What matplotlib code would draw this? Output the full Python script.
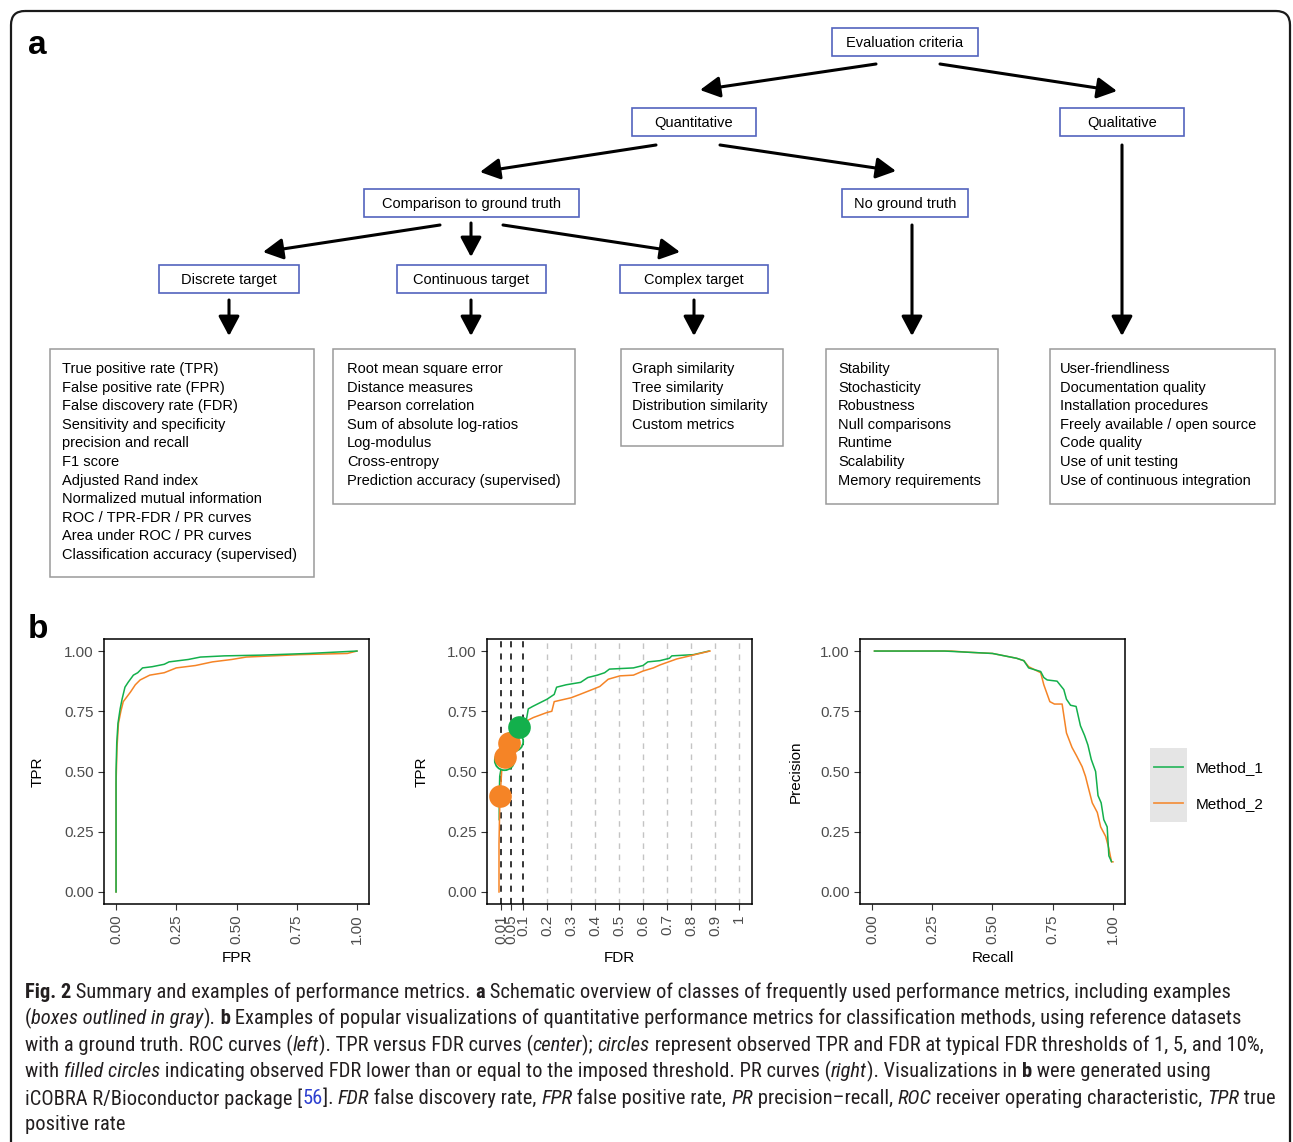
import matplotlib
matplotlib.use('Agg')
import matplotlib.pyplot as plt
from matplotlib.patches import Rectangle, FancyBboxPatch
from matplotlib import font_manager

# ---------------- data ----------------
node_labels = ["Evaluation criteria", "Quantitative", "Qualitative",
               "Comparison to ground truth", "No ground truth",
               "Discrete target", "Continuous target", "Complex target"]

discrete_metrics = ["True positive rate (TPR)", "False positive rate (FPR)",
                    "False discovery rate (FDR)", "Sensitivity and specificity",
                    "precision and recall", "F1 score", "Adjusted Rand index",
                    "Normalized mutual information", "ROC / TPR-FDR / PR curves",
                    "Area under ROC / PR curves", "Classification accuracy (supervised)"]
continuous_metrics = ["Root mean square error", "Distance measures", "Pearson correlation",
                      "Sum of absolute log-ratios", "Log-modulus", "Cross-entropy",
                      "Prediction accuracy (supervised)"]
complex_metrics = ["Graph similarity", "Tree similarity", "Distribution similarity",
                   "Custom metrics"]
noground_metrics = ["Stability", "Stochasticity", "Robustness", "Null comparisons",
                    "Runtime", "Scalability", "Memory requirements"]
qualitative_metrics = ["User-friendliness", "Documentation quality", "Installation procedures",
                       "Freely available / open source", "Code quality", "Use of unit testing",
                       "Use of continuous integration"]

methods = ["Method_1", "Method_2"]

roc_fpr_1 = [0, 0, 0.003, 0.008, 0.017, 0.025, 0.037, 0.05, 0.072, 0.09, 0.11, 0.15, 0.2,
             0.22, 0.3, 0.35, 0.45, 0.6, 0.8, 0.9, 1.0]
roc_tpr_1 = [0, 0.5, 0.62, 0.7, 0.76, 0.8, 0.85, 0.87, 0.9, 0.91, 0.93, 0.935, 0.945,
             0.955, 0.965, 0.975, 0.98, 0.983, 0.99, 0.995, 1.0]
roc_fpr_2 = [0, 0, 0.004, 0.01, 0.02, 0.03, 0.045, 0.06, 0.08, 0.1, 0.14, 0.2, 0.25, 0.33,
             0.4, 0.48, 0.54, 0.76, 0.96, 1.0]
roc_tpr_2 = [0, 0.45, 0.6, 0.7, 0.75, 0.79, 0.81, 0.83, 0.86, 0.88, 0.9, 0.91, 0.93, 0.94,
             0.955, 0.965, 0.975, 0.985, 0.99, 1.0]

fdr_1 = [0.001, 0.001, 0.003, 0.01, 0.022, 0.04, 0.058, 0.075, 0.085, 0.1, 0.115, 0.122, 0.14,
         0.2, 0.23, 0.24, 0.28, 0.34, 0.37, 0.41, 0.44, 0.46, 0.56, 0.6, 0.62, 0.67, 0.71,
         0.72, 0.81, 0.875]
fdr_tpr_1 = [0.3, 0.4, 0.48, 0.52, 0.546, 0.6, 0.626, 0.66, 0.686, 0.7, 0.72, 0.76, 0.77,
             0.8, 0.82, 0.85, 0.86, 0.87, 0.89, 0.9, 0.91, 0.925, 0.93, 0.94, 0.955, 0.96,
             0.97, 0.98, 0.985, 1.0]
fdr_2 = [0.0, 0.0, 0.003, 0.005, 0.011, 0.02, 0.025, 0.035, 0.042, 0.07, 0.1, 0.115, 0.143,
         0.2, 0.22, 0.23, 0.3, 0.337, 0.393, 0.42, 0.455, 0.504, 0.56, 0.6, 0.643, 0.67,
         0.74, 0.795, 0.879]
fdr_tpr_2 = [0.0, 0.2, 0.35, 0.40, 0.5, 0.54, 0.56, 0.6, 0.62, 0.66, 0.69, 0.71, 0.724,
             0.745, 0.75, 0.79, 0.806, 0.82, 0.842, 0.853, 0.883, 0.897, 0.9, 0.917, 0.93,
             0.942, 0.967, 0.98, 1.0]

thr_fdr_1 = [0.022, 0.058, 0.085]
thr_tpr_1 = [0.546, 0.626, 0.686]
thr_filled_1 = [False, False, True]
thr_fdr_2 = [0.005, 0.025, 0.042]
thr_tpr_2 = [0.40, 0.56, 0.62]
thr_filled_2 = [True, True, True]

fdr_ticks = [0.01, 0.05, 0.1, 0.2, 0.3, 0.4, 0.5, 0.6, 0.7, 0.8, 0.9, 1]
fdr_ticklabels = ["0.01", "0.05", "0.1", "0.2", "0.3", "0.4", "0.5", "0.6", "0.7", "0.8", "0.9", "1"]
fdr_thresholds = [0.01, 0.05, 0.1]
unit_ticks = [0.0, 0.25, 0.5, 0.75, 1.0]
unit_ticklabels = ["0.00", "0.25", "0.50", "0.75", "1.00"]

rec_1 = [0.01, 0.3, 0.4, 0.5, 0.55, 0.6, 0.63, 0.65, 0.7, 0.713, 0.727, 0.768, 0.796, 0.807,
         0.824, 0.847, 0.856, 0.865, 0.882, 0.896, 0.91, 0.928, 0.938, 0.951, 0.962, 0.976,
         0.983, 0.994]
prec_1 = [1.0, 1.0, 0.995, 0.99, 0.98, 0.97, 0.96, 0.93, 0.915, 0.89, 0.88, 0.875, 0.84, 0.8,
          0.775, 0.77, 0.73, 0.69, 0.65, 0.61, 0.55, 0.5, 0.4, 0.37, 0.3, 0.27, 0.15, 0.126]
rec_2 = [0.01, 0.33, 0.4, 0.5, 0.55, 0.6, 0.63, 0.65, 0.7, 0.713, 0.738, 0.757, 0.789, 0.807,
         0.83, 0.849, 0.872, 0.886, 0.896, 0.914, 0.935, 0.949, 0.97, 0.983, 0.994, 1.0]
prec_2 = [1.0, 1.0, 0.995, 0.99, 0.98, 0.97, 0.96, 0.935, 0.91, 0.86, 0.79, 0.78, 0.78, 0.66,
          0.6, 0.565, 0.52, 0.48, 0.44, 0.37, 0.33, 0.27, 0.23, 0.18, 0.125, 0.125]

caption_lines = [
    [("Fig. 2", "b"), (" Summary and examples of performance metrics. ", "n"), ("a", "b"),
     (" Schematic overview of classes of frequently used performance metrics, including examples", "n")],
    [("(", "n"), ("boxes outlined in gray", "i"), (").", "n"), (" b", "b"),
     (" Examples of popular visualizations of quantitative performance metrics for classification methods, using reference datasets", "n")],
    [("with a ground truth. ROC curves (", "n"), ("left", "i"), ("). TPR versus FDR curves (", "n"),
     ("center", "i"), ("); ", "n"), ("circles", "i"),
     (" represent observed TPR and FDR at typical FDR thresholds of 1, 5, and 10%,", "n")],
    [("with ", "n"), ("filled circles", "i"),
     (" indicating observed FDR lower than or equal to the imposed threshold. PR curves (", "n"),
     ("right", "i"), ("). Visualizations in ", "n"), ("b", "b"), (" were generated using", "n")],
    [("iCOBRA R/Bioconductor package [", "n"), ("56", "l"), ("]. ", "n"), ("FDR", "i"),
     (" false discovery rate, ", "n"), ("FPR", "i"), (" false positive rate, ", "n"), ("PR", "i"),
     (" precision\u2013recall, ", "n"), ("ROC", "i"), (" receiver operating characteristic, ", "n"),
     ("TPR", "i"), (" true", "n")],
    [("positive rate", "n")],
]
caption_line_ends = [1263, 1250, 1276, 1237, 1272, None]

# ---------------- styles ----------------
GREEN = '#13b04c'
ORANGE = '#f58426'
BOXBLUE = '#5363bd'
BOXGRAY = '#9a9a9a'
FONT = 'Liberation Sans'
avail = {f.name for f in font_manager.fontManager.ttflist}
CAPFONT = 'Liberation Sans Narrow' if 'Liberation Sans Narrow' in avail else (
    'Roboto Condensed' if 'Roboto Condensed' in avail else 'Liberation Sans')
plt.rcParams['font.family'] = [FONT, 'DejaVu Sans']

W, H = 1293, 1142
fig = plt.figure(figsize=(W / 100, H / 100), dpi=100)
ov = fig.add_axes([0, 0, 1, 1], zorder=0)
ov.set_xlim(0, W)
ov.set_ylim(H, 0)
ov.axis('off')

# outer rounded border
ov.add_patch(FancyBboxPatch((11, 11), 1279, 1200, boxstyle="round,pad=0,rounding_size=14",
                            fill=False, ec='#1a1a1a', lw=1.6, clip_on=False))

ov.text(28, 46, "a", fontsize=24, fontweight='bold', va='center', ha='left')
ov.text(28, 629, "b", fontsize=24, fontweight='bold', va='center', ha='left')

# ---------------- part a: nodes ----------------
node_boxes = [(832, 28, 978, 56), (632, 108, 756, 136), (1060, 108, 1184, 136),
              (364, 189, 579, 217), (842, 189, 968, 217), (159, 265, 299, 293),
              (397, 265, 546, 293), (620, 265, 768, 293)]
for lab, (x0, y0, x1, y1) in zip(node_labels, node_boxes):
    ov.add_patch(Rectangle((x0, y0), x1 - x0, y1 - y0, fill=False, ec=BOXBLUE, lw=1.2))
    ov.text((x0 + x1) / 2, (y0 + y1) / 2 + 1, lab, ha='center', va='center', fontsize=10.5)

arrows = [((876, 64), (700, 90)), ((940, 64), (1117, 91)),
          ((656, 145), (480, 172)), ((720, 145), (896, 171)),
          ((1122, 145), (1122, 336)), ((912, 225), (912, 336)),
          ((440, 225), (263, 252)), ((471, 223), (471, 257)), ((503, 225), (680, 252)),
          ((229, 300), (229, 336)), ((471, 300), (471, 336)), ((694, 300), (694, 336))]
for (s, t) in arrows:
    ov.annotate('', xy=t, xytext=s,
                arrowprops=dict(arrowstyle='-|>,head_length=0.6,head_width=0.32', lw=2.2,
                                color='black', shrinkA=0, shrinkB=0, mutation_scale=20))

list_boxes = [((50, 349, 314, 577), discrete_metrics, 62),
              ((333, 349, 575, 504), continuous_metrics, 347),
              ((621, 349, 783, 446), complex_metrics, 632),
              ((826, 349, 998, 504), noground_metrics, 838),
              ((1050, 349, 1275, 504), qualitative_metrics, 1060)]
for (x0, y0, x1, y1), items, tx in list_boxes:
    ov.add_patch(Rectangle((x0, y0), x1 - x0, y1 - y0, fill=False, ec=BOXGRAY, lw=1.1))
    for i, it in enumerate(items):
        ov.text(tx, 369 + i * 18.6, it, ha='left', va='center', fontsize=10.5)

# ---------------- part b: plots ----------------
def make_ax(left_px):
    ax = fig.add_axes([left_px / W, 1 - 904 / H, 265 / W, 265 / H], zorder=2)
    ax.set_facecolor('white')
    for sp in ax.spines.values():
        sp.set_color('black')
        sp.set_linewidth(1.1)
    ax.tick_params(direction='out', length=4, width=0.8, color='#333333',
                   labelcolor='#4d4d4d', labelsize=11)
    ax.set_ylim(-0.05, 1.05)
    ax.set_yticks(unit_ticks)
    ax.set_yticklabels(unit_ticklabels)
    return ax

ax1 = make_ax(104)
ax1.set_xlim(-0.05, 1.05)
ax1.set_xticks(unit_ticks)
ax1.set_xticklabels(unit_ticklabels, rotation=90)
ax1.plot(roc_fpr_2, roc_tpr_2, color=ORANGE, lw=1.1)
ax1.plot(roc_fpr_1, roc_tpr_1, color=GREEN, lw=1.1)
ax1.set_xlabel("FPR", fontsize=11)
ax1.set_ylabel("TPR", fontsize=11)
ax1.xaxis.set_label_coords(0.5, -0.205)
ax1.yaxis.set_label_coords((38 - 104) / 265, 0.5)

ax2 = make_ax(487)
ax2.set_xlim(-0.05, 1.054)
ax2.set_xticks(fdr_ticks)
ax2.set_xticklabels(fdr_ticklabels, rotation=90)
for t in fdr_ticks:
    if t in fdr_thresholds:
        ax2.axvline(t, color='black', lw=1.1, ls=(0, (4, 4)), zorder=1)
    else:
        ax2.axvline(t, color='#c4c4c4', lw=1.0, ls=(0, (4, 4)), zorder=1)
ax2.plot(fdr_1, fdr_tpr_1, color=GREEN, lw=1.1, zorder=2)
ax2.plot(fdr_2, fdr_tpr_2, color=ORANGE, lw=1.1, zorder=2)
for f, t, fl in zip(thr_fdr_1, thr_tpr_1, thr_filled_1):
    if not fl:
        ax2.plot([f], [t], 'o', ms=14, mfc='white', mec=GREEN, mew=1.3, zorder=3)
for f, t, fl in zip(thr_fdr_2, thr_tpr_2, thr_filled_2):
    ax2.plot([f], [t], 'o', ms=15, mfc=ORANGE if fl else 'white', mec=ORANGE, mew=1.3, zorder=4)
for f, t, fl in zip(thr_fdr_1, thr_tpr_1, thr_filled_1):
    if fl:
        ax2.plot([f], [t], 'o', ms=15, mfc=GREEN, mec=GREEN, mew=1.3, zorder=5)
ax2.set_xlabel("FDR", fontsize=11)
ax2.set_ylabel("TPR", fontsize=11)
ax2.xaxis.set_label_coords(0.5, -0.205)
ax2.yaxis.set_label_coords((422 - 487) / 265, 0.5)

ax3 = make_ax(860)
ax3.set_xlim(-0.05, 1.05)
ax3.set_xticks(unit_ticks)
ax3.set_xticklabels(unit_ticklabels, rotation=90)
ax3.plot(rec_2, prec_2, color=ORANGE, lw=1.1)
ax3.plot(rec_1, prec_1, color=GREEN, lw=1.1)
ax3.set_xlabel("Recall", fontsize=11)
ax3.set_ylabel("Precision", fontsize=11)
ax3.xaxis.set_label_coords(0.5, -0.205)
ax3.yaxis.set_label_coords((796 - 860) / 265, 0.5)

for ax in (ax1, ax2, ax3):
    ax.xaxis.label.set_va('center')
    ax.yaxis.label.set_va('center')

# legend
ov.add_patch(Rectangle((1150, 748), 37, 74, fc='#e5e5e5', ec='none'))
for i, (m, c) in enumerate(zip(methods, [GREEN, ORANGE])):
    yy = 767 + i * 36
    ov.plot([1154, 1183], [yy, yy], color=c, lw=1.3, alpha=0.85)
    ov.text(1196, yy + 1, m, ha='left', va='center', fontsize=11)

# ---------------- caption ----------------
renderer = fig.canvas.get_renderer()
styles = {'n': dict(), 'b': dict(fontweight='bold'), 'i': dict(fontstyle='italic'),
          'l': dict(color='#2d3fd0')}

def run_width(s, size, st):
    t = ov.text(0, 0, s + '|', fontsize=size, family=[CAPFONT, 'DejaVu Sans'], **styles[st])
    w1 = t.get_window_extent(renderer).width
    t.remove()
    t = ov.text(0, 0, '|', fontsize=size, family=[CAPFONT, 'DejaVu Sans'], **styles[st])
    w0 = t.get_window_extent(renderer).width
    t.remove()
    return w1 - w0

base = 12.0
ratios = []
for runs, end in zip(caption_lines, caption_line_ends):
    if end is None:
        continue
    w = sum(run_width(s, base, st) for s, st in runs)
    ratios.append((end - 25) / w)
capsize = base * min(ratios)
for li, runs in enumerate(caption_lines):
    x = 25
    y = 992 + li * 26.6
    for s, st in runs:
        kw = dict(styles[st])
        kw.setdefault('color', '#231f20')
        ov.text(x, y, s, fontsize=capsize, family=[CAPFONT, 'DejaVu Sans'],
                ha='left', va='center', **kw)
        x += run_width(s, capsize, st)

fig.savefig('out.png', dpi=100)
